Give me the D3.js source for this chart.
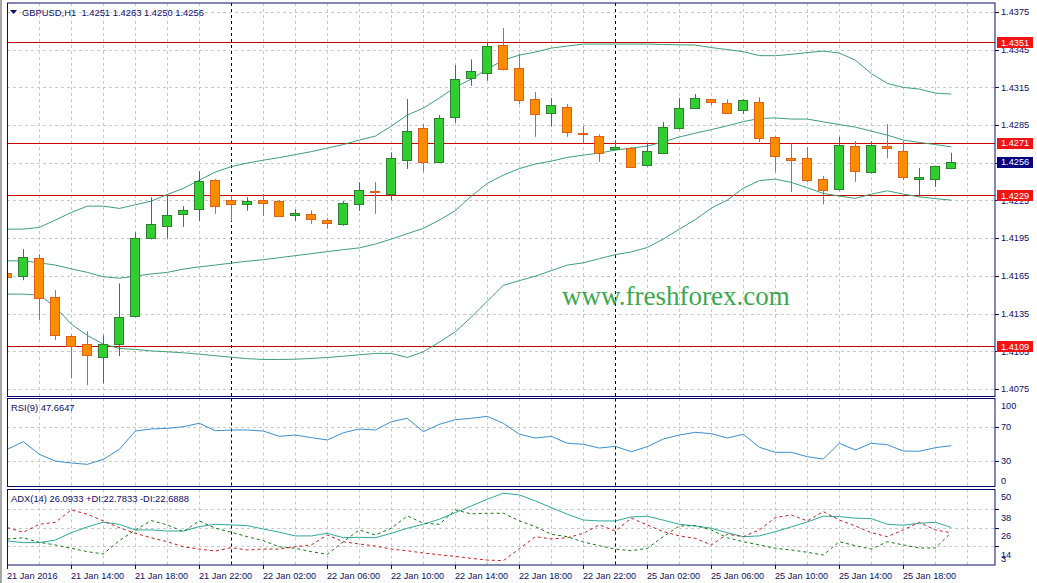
<!DOCTYPE html>
<html><head><meta charset="utf-8">
<script src="https://cdnjs.cloudflare.com/ajax/libs/d3/7.8.5/d3.min.js"></script>
<style>
body{margin:0;background:#fff;}
svg{display:block;font-family:"Liberation Sans",Arial,sans-serif;}
</style>
</head><body>
<svg id="c" width="1037" height="583"></svg>
<script>
// ---------------- DATA ----------------
const symbol = "GBPUSD,H1";
const timeLabels = ["21 Jan 2016","21 Jan 14:00","21 Jan 18:00","21 Jan 22:00","22 Jan 02:00","22 Jan 06:00",
  "22 Jan 10:00","22 Jan 14:00","22 Jan 18:00","22 Jan 22:00","25 Jan 02:00","25 Jan 06:00","25 Jan 10:00",
  "25 Jan 14:00","25 Jan 18:00"];
const labelEvery = 4;            // one time label every 4 hourly bars
const daySeparators = [14, 38];  // bar index of 22 Jan 00:00 and 25 Jan 00:00

const open  = [1.41672,1.41643,1.41789,1.41479,1.41170,1.41107,1.41006,1.41104,1.41324,1.41953,
  1.42048,1.42139,1.42176,1.42410,1.42255,1.42219,1.42251,1.42245,1.42131,1.42142,
  1.42094,1.42056,1.42219,1.42322,1.42295,1.42569,1.42824,1.42558,1.42908,1.43222,
  1.43262,1.43484,1.43301,1.43055,1.42943,1.42991,1.42784,1.42760,1.42659,1.42667,
  1.42526,1.42630,1.42821,1.42985,1.43055,1.43023,1.42967,1.43031,1.42752,1.42587,
  1.42587,1.42418,1.42338,1.42680,1.42473,1.42683,1.42641,1.42418,1.42418,1.4251];
const high  = [1.41760,1.41863,1.41823,1.41537,1.41180,1.41210,1.41178,1.41590,1.41998,1.42275,
  1.42298,1.42205,1.42484,1.42420,1.42287,1.42277,1.42301,1.42253,1.42179,1.42171,
  1.42110,1.42245,1.42396,1.42396,1.42633,1.43057,1.42858,1.42930,1.43328,1.43373,
  1.43511,1.43622,1.43415,1.43113,1.43065,1.43017,1.42842,1.42776,1.42731,1.42675,
  1.42709,1.42874,1.43065,1.43097,1.43059,1.43055,1.43057,1.43071,1.42762,1.42704,
  1.42675,1.42446,1.42757,1.42723,1.42720,1.42858,1.42725,1.42508,1.42521,1.4263];
const low   = [1.41537,1.41616,1.41298,1.41139,1.40834,1.40780,1.40794,1.41011,1.41320,1.41940,
  1.41948,1.42040,1.42088,1.42144,1.42086,1.42168,1.42128,1.42118,1.42088,1.42064,
  1.42025,1.42050,1.42168,1.42144,1.42253,1.42502,1.42478,1.42550,1.42868,1.43163,
  1.43203,1.43285,1.43015,1.42757,1.42837,1.42757,1.42704,1.42558,1.42651,1.42510,
  1.42520,1.42619,1.42815,1.42980,1.43009,1.42940,1.42938,1.42715,1.42476,1.42319,
  1.42396,1.42219,1.42330,1.42399,1.42465,1.42585,1.42412,1.42279,1.42359,1.4250];
const close = [1.41640,1.41797,1.41471,1.41176,1.41091,1.41017,1.41112,1.41322,1.41948,1.42062,
  1.42134,1.42171,1.42402,1.42200,1.42227,1.42245,1.42227,1.42123,1.42147,1.42099,
  1.42068,1.42227,1.42330,1.42311,1.42585,1.42800,1.42553,1.42906,1.43214,1.43278,
  1.43476,1.43290,1.43047,1.42935,1.43007,1.42792,1.42776,1.42625,1.42675,1.42518,
  1.42641,1.42834,1.42983,1.43063,1.43028,1.42946,1.43047,1.42741,1.42601,1.42569,
  1.42410,1.42330,1.42688,1.42481,1.42688,1.42664,1.42434,1.42434,1.42521,1.4256];

const bbUpper = [1.42022,1.42022,1.42036,1.42094,1.42155,1.42205,1.42205,1.42187,1.42216,1.42245,
  1.42298,1.42346,1.42412,1.42476,1.42520,1.42548,1.42571,1.42591,1.42615,1.42639,
  1.42667,1.42695,1.42731,1.42762,1.42842,1.42930,1.42985,1.43065,1.43153,1.43216,
  1.43296,1.43367,1.43407,1.43431,1.43463,1.43479,1.43495,1.43495,1.43495,1.43495,
  1.43495,1.43491,1.43489,1.43487,1.43467,1.43451,1.43434,1.43403,1.43402,1.43413,
  1.43427,1.43439,1.43423,1.43367,1.43260,1.43182,1.43150,1.43137,1.43105,1.43097];
const bbMiddle = [1.41770,1.41770,1.41754,1.41736,1.41706,1.41678,1.41643,1.41632,1.41648,1.41666,
  1.41678,1.41704,1.41722,1.41736,1.41752,1.41767,1.41779,1.41795,1.41811,1.41827,
  1.41843,1.41859,1.41873,1.41903,1.41943,1.41986,1.42028,1.42094,1.42169,1.42285,
  1.42386,1.42452,1.42504,1.42540,1.42563,1.42593,1.42611,1.42627,1.42651,1.42667,
  1.42683,1.42717,1.42755,1.42786,1.42814,1.42844,1.42878,1.42902,1.42907,1.42898,
  1.42898,1.42876,1.42854,1.42834,1.42802,1.42770,1.42731,1.42712,1.42695,1.42677];
const bbLower = [1.41505,1.41505,1.41497,1.41404,1.41266,1.41176,1.41107,1.41073,1.41065,1.41053,
  1.41046,1.41038,1.41027,1.41015,1.41003,1.40991,1.40985,1.40985,1.40987,1.40993,
  1.41001,1.41011,1.41022,1.41033,1.41033,1.41001,1.41046,1.41123,1.41205,1.41322,
  1.41449,1.41575,1.41612,1.41648,1.41692,1.41736,1.41754,1.41787,1.41819,1.41841,
  1.41876,1.41943,1.42022,1.42098,1.42189,1.42253,1.42348,1.42408,1.42420,1.42394,
  1.42352,1.42306,1.42285,1.42267,1.42301,1.42327,1.42301,1.42279,1.42265,1.42253];

const rsi = [43.4,52.4,37.5,29.6,27.3,25.7,31.6,43.4,64.9,67.3,
  68.1,70.0,74.0,65.3,66.1,66.1,64.9,58.7,60.2,57.1,
  54.4,62.9,67.3,66.1,75.9,79.9,64.1,72.8,78.2,79.9,
  82.2,74.0,61.2,56.7,58.7,50.5,49.3,44.9,46.9,40.6,
  46.5,55.5,60.2,63.4,61.8,56.7,61.1,45.8,39.9,39.9,
  34.7,32.0,50.5,42.6,50.5,48.8,41.4,41.1,45.3,47.6647];
const adx = [17.3,16.2,16.2,17.9,22.7,26.5,29.5,28.2,24.5,24.5,
  23.8,23.8,26.7,28.2,27.8,27.3,25.1,23.0,20.6,20.6,
  22.3,19.4,19.7,19.4,22.3,25.6,28.2,31.5,35.8,40.2,
  44.6,48.5,47.4,43.5,39.1,34.8,31.0,30.4,30.4,33.0,
  33.5,30.9,28.2,27.1,25.6,22.7,20.1,20.6,23.4,26.5,
  29.7,33.5,33.2,32.2,31.9,28.2,27.6,28.9,29.5,26.0933];
const plusDI = [18.6,19.4,16.4,14.7,12.5,10.3,8.8,17.5,24.5,30.6,
  27.8,23.4,30.4,25.6,23.0,20.1,17.5,13.5,12.5,10.3,
  8.6,16.8,24.5,21.2,25.6,33.7,28.9,28.2,37.6,35.0,
  35.4,35.4,30.5,26.7,21.7,20.1,16.6,14.2,12.0,10.9,
  12.5,20.1,27.1,27.3,24.5,19.4,16.8,14.7,12.5,11.4,
  9.9,8.1,16.8,14.2,12.0,16.8,14.7,12.7,12.7,22.7833];
const minusDI = [26.0,23.0,28.2,29.5,37.6,34.8,30.4,26.0,22.3,19.4,
  16.8,13.5,12.0,10.7,12.9,11.4,12.0,12.0,13.5,14.7,
  21.2,16.8,15.3,14.0,12.0,10.9,9.4,8.3,7.2,5.9,
  4.8,4.4,12.2,20.1,18.6,19.4,22.3,27.8,23.8,32.2,
  27.8,23.4,20.6,19.0,14.7,21.7,20.1,24.5,32.6,34.3,
  30.4,36.5,31.0,27.1,22.7,20.1,24.5,29.5,24.5,22.6888];

const priceTicks = [1.4375,1.4345,1.4315,1.4285,1.4255,1.4225,1.4195,1.4165,1.4135,1.4105,1.4075];
const levels = [1.4351,1.4271,1.4229,1.4109];
const rsiTicks = [100,70,30,0];
const rsiGrid = [70,30];
const adxTicks = [50,38,26,14,3];
const adxGrid = [38,26,14];
const watermark = "www.freshforex.com";

// ---------------- LAYOUT ----------------
const svg = d3.select("#c");
const PL = 7, PR = 995;
const main = {top:3, bottom:396.5};
const rsiP = {top:398.5, bottom:486.5};
const adxP = {top:489.5, bottom:565};
const navy = "#0c0c6e", gridC = "#c9c9c9";
const n = close.length;

const x = d3.scaleLinear().domain([0, n - 1]).range([7.3, 7.3 + 16 * (n - 1)]);
const yP = d3.scaleLinear().domain([1.4075, 1.4375]).range([389, 12]);
const yR = d3.scaleLinear().domain([0, 100]).range([486.2, 401.2]);
const yA = d3.scaleLinear().domain([14, 38]).range([546, 509.3]);
const px = v => Math.round(v) + 0.5;

svg.append("rect").attr("width",1037).attr("height",583).attr("fill","#fff");
svg.append("rect").attr("x",0).attr("y",0).attr("width",2).attr("height",583).attr("fill","#a6a6a6");

const defs = svg.append("defs");
[["cm",main],["cr",rsiP],["ca",adxP]].forEach(([id,p]) => {
  defs.append("clipPath").attr("id",id).append("rect")
    .attr("x",PL+0.5).attr("y",p.top).attr("width",PR-PL-0.5).attr("height",p.bottom-p.top);
});

// vertical grid + separators in every panel
const gridBars = d3.range(2, 62, 2).filter(i => x(i) < PR - 1);
[main, rsiP, adxP].forEach(p => {
  svg.append("g").selectAll("line").data(gridBars).join("line")
    .attr("x1", d => px(x(d))).attr("x2", d => px(x(d)))
    .attr("y1", p.top).attr("y2", p.bottom)
    .attr("stroke", gridC).attr("stroke-dasharray","3,3");
});
// horizontal grids
svg.append("g").selectAll("line").data(priceTicks).join("line")
  .attr("x1",PL).attr("x2",PR).attr("y1",d=>px(yP(d))).attr("y2",d=>px(yP(d)))
  .attr("stroke",gridC).attr("stroke-dasharray","3,3");
svg.append("g").selectAll("line").data(rsiGrid).join("line")
  .attr("x1",PL).attr("x2",PR).attr("y1",d=>px(yR(d))).attr("y2",d=>px(yR(d)))
  .attr("stroke",gridC).attr("stroke-dasharray","3,3");
svg.append("g").selectAll("line").data(adxGrid).join("line")
  .attr("x1",PL).attr("x2",PR).attr("y1",d=>px(yA(d))).attr("y2",d=>px(yA(d)))
  .attr("stroke",gridC).attr("stroke-dasharray","3,3");

[main, rsiP, adxP].forEach(p => {
  svg.append("g").selectAll("line").data(daySeparators).join("line")
    .attr("x1", d => px(x(d))).attr("x2", d => px(x(d)))
    .attr("y1", p.top).attr("y2", p.bottom)
    .attr("stroke", "#000040").attr("stroke-dasharray","3,3");
});

// level lines (horizontal support / resistance)
const lvlG = svg.append("g").attr("shape-rendering","crispEdges");
levels.forEach(v => {
  lvlG.append("rect").attr("x",PL).attr("width",PR-PL).attr("y",Math.round(yP(v))).attr("height",1)
    .attr("fill","#c80000");
});

// ---------------- MAIN PANEL ----------------
const gm = svg.append("g").attr("clip-path","url(#cm)");

// bollinger bands
const bbColor = "#3f9f78";
[bbUpper, bbMiddle, bbLower].forEach(arr => {
  gm.append("path").datum(arr)
    .attr("d", d3.line().x((d,i)=>x(i)).y(d=>yP(d)))
    .attr("fill","none").attr("stroke",bbColor).attr("stroke-width",1);
});

// watermark
gm.append("text").attr("x",562).attr("y",305).text(watermark)
  .attr("font-family",'"Liberation Serif","Times New Roman",serif')
  .attr("font-size",27).attr("fill","#3aa84e");

// candles
const idx = d3.range(n);
const bull = i => close[i] >= open[i];
const cg = gm.append("g").selectAll("g").data(idx).join("g");
cg.append("line")
  .attr("x1", i => px(x(i))).attr("x2", i => px(x(i)))
  .attr("y1", i => yP(high[i])).attr("y2", i => yP(low[i]))
  .attr("stroke", i => bull(i) ? "#2a842a" : "#e0601a");
cg.append("rect")
  .attr("x", i => Math.round(x(i)) - 4.5)
  .attr("width", 9)
  .attr("y", i => Math.round(Math.min(yP(open[i]), yP(close[i]))) + 0.5)
  .attr("height", i => Math.max(1, Math.round(Math.abs(yP(open[i]) - yP(close[i])))))
  .attr("fill", i => bull(i) ? "#33cc33" : "#ff8c00")
  .attr("stroke", i => bull(i) ? "#2a842a" : "#e0601a");

// header
svg.append("path").attr("d","M10,10 L17,10 L13.5,14 Z").attr("fill",navy);
const f4 = d3.format(".4f");
svg.append("text").attr("x",22).attr("y",15.5).attr("font-size",9.4).attr("fill",navy)
  .attr("xml:space","preserve")
  .text(`${symbol}  ${f4(open[n-1])} ${f4(high[n-1])} ${f4(low[n-1])} ${f4(close[n-1])}`);

// ---------------- RSI PANEL ----------------
const gr = svg.append("g").attr("clip-path","url(#cr)");
gr.append("path").datum(rsi)
  .attr("d", d3.line().x((d,i)=>x(i)).y(d=>yR(d)))
  .attr("fill","none").attr("stroke","#3a8fcf").attr("stroke-width",1);
svg.append("text").attr("x",11).attr("y",411).attr("font-size",9.4).attr("fill",navy)
  .text(`RSI(9) ${rsi[n-1].toFixed(4)}`);

// ---------------- ADX PANEL ----------------
const ga = svg.append("g").attr("clip-path","url(#ca)");
const lineA = d3.line().x((d,i)=>x(i)).y(d=>yA(d));
ga.append("path").datum(adx).attr("d",lineA).attr("fill","none").attr("stroke","#2fa89a");
ga.append("path").datum(plusDI).attr("d",lineA).attr("fill","none").attr("stroke","#0d7a0d").attr("stroke-dasharray","3,3");
ga.append("path").datum(minusDI).attr("d",lineA).attr("fill","none").attr("stroke","#c41e1e").attr("stroke-dasharray","3,3");
svg.append("text").attr("x",11).attr("y",502).attr("font-size",9.4).attr("fill",navy)
  .text(`ADX(14) ${adx[n-1].toFixed(4)} +DI:${plusDI[n-1].toFixed(4)} -DI:${minusDI[n-1].toFixed(4)}`);

// ---------------- FRAMES ----------------
[main, rsiP, adxP].forEach(p => {
  svg.append("rect").attr("x",PL+0.5).attr("y",p.top).attr("width",PR-PL-0.5).attr("height",p.bottom-p.top)
    .attr("fill","none").attr("stroke",navy);
});

// ---------------- RIGHT AXES ----------------
const rax = svg.append("g").attr("font-size",9.2).attr("fill",navy);
rax.selectAll("line.pt").data(priceTicks).join("line").attr("class","pt")
  .attr("x1",PR).attr("x2",PR+4).attr("y1",d=>px(yP(d))).attr("y2",d=>px(yP(d))).attr("stroke",navy);
rax.selectAll("text.pt").data(priceTicks).join("text").attr("class","pt")
  .attr("x",1001).attr("y",d=>yP(d)).attr("dy","0.35em").text(d=>f4(d));

// level boxes
const lv = rax.selectAll("g.lv").data(levels).join("g").attr("class","lv");
lv.append("rect").attr("x",997).attr("width",36).attr("y",d=>Math.round(yP(d))-5).attr("height",11).attr("fill","#f01414");
lv.append("text").attr("x",1001).attr("y",d=>yP(d)).attr("dy","0.38em").attr("fill","#fff").text(d=>f4(d));
// last price box
rax.append("rect").attr("x",997).attr("width",36).attr("y",Math.round(yP(close[n-1]))-5).attr("height",11).attr("fill","#000080");
rax.append("text").attr("x",1001).attr("y",yP(close[n-1])).attr("dy","0.38em").attr("fill","#fff").text(f4(close[n-1]));

// RSI axis
rax.selectAll("line.rt").data(rsiGrid).join("line").attr("class","rt")
  .attr("x1",PR).attr("x2",PR+4).attr("y1",d=>px(yR(d))).attr("y2",d=>px(yR(d))).attr("stroke",navy);
rax.selectAll("text.rt").data(rsiTicks).join("text").attr("class","rt")
  .attr("x",1001).attr("y",d=>Math.min(480.7, Math.max(405.7, yR(d)))).attr("dy","0.35em").text(d=>d);

// ADX axis
rax.selectAll("line.at").data(adxGrid).join("line").attr("class","at")
  .attr("x1",PR).attr("x2",PR+4).attr("y1",d=>px(yA(d))).attr("y2",d=>px(yA(d))).attr("stroke",navy);
const adxLabelY = d => d === 3 ? yA(d) - 4.5 : (d === 50 ? yA(d) + 5.7 : yA(d) + 8.3);
rax.selectAll("text.at").data(adxTicks).join("text").attr("class","at")
  .attr("x",1001).attr("y",adxLabelY).attr("dy","0.35em").text(d=>d);

// ---------------- TIME AXIS ----------------
const tax = svg.append("g").attr("font-size",9.2).attr("fill",navy);
tax.selectAll("line").data(timeLabels).join("line")
  .attr("x1",(d,i)=>px(x(i*labelEvery))).attr("x2",(d,i)=>px(x(i*labelEvery)))
  .attr("y1",adxP.bottom).attr("y2",adxP.bottom+4).attr("stroke",navy);
tax.selectAll("text").data(timeLabels).join("text")
  .attr("x",(d,i)=>Math.round(x(i*labelEvery))).attr("y",578.5).text(d=>d);
</script>
</body></html>
